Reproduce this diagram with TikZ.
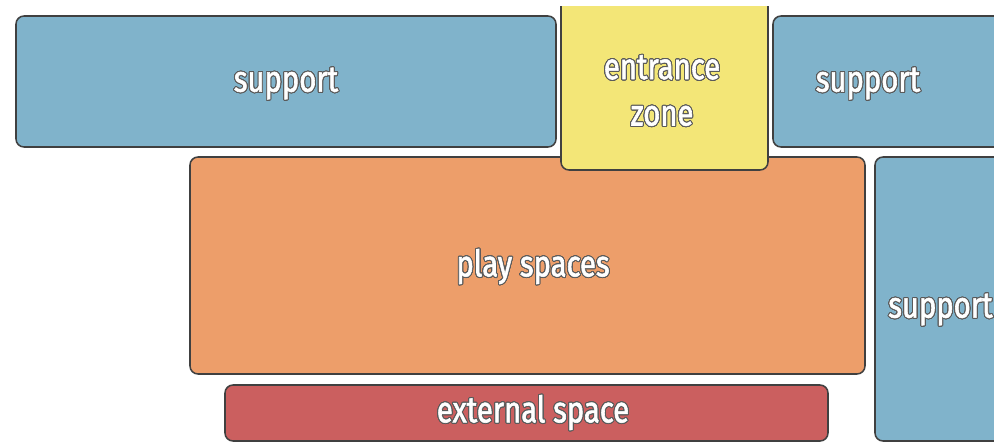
\documentclass[tikz,border=0pt]{standalone}
\usepackage{fontspec}
\setmainfont{Fira Sans}
\newfontfamily\zonefont{Fira Sans}[FakeStretch=0.8, FakeBold=1.6]
\usepackage[copies]{contour}
\contourlength{0.7pt}
\contournumber{24}
\definecolor{supportblue}{HTML}{80B3CB}
\definecolor{entryyellow}{HTML}{F3E677}
\definecolor{playorange}{HTML}{ED9E6A}
\definecolor{externalred}{HTML}{CB5F5F}
\definecolor{zoneline}{HTML}{404040}
\definecolor{textline}{HTML}{5A5A5A}
\newcommand{\zonelabel}[1]{\contour{textline}{#1}}
\tikzset{
	zone/.style={draw=zoneline, line width=1.1pt, rounded corners=0.2cm},
	zonetext/.style={text=white, font=\zonefont\fontsize{26}{33}\selectfont, inner sep=0pt, align=center}
}

\begin{document}
\begin{tikzpicture}[x=0.025cm, y=-0.025cm]
			%%%%% START %%%%%
			\useasboundingbox (0, 0) rectangle (994, 443);
			\clip (0, 0) rectangle (994, 443);
			
			\draw[zone, fill=supportblue] (16, 16) rectangle (556, 147);
			\draw[zone, fill=supportblue] (773, 16) rectangle (1010, 147);
			
			\draw[zone, fill=playorange] (190, 157) rectangle (865, 374);
			\draw[zone, fill=supportblue] (875, 157) rectangle (1010, 441);
			\begin{scope}
				\clip (0, 6) rectangle (994, 443);
				\draw[zone, fill=entryyellow] (561, -12) rectangle (768, 170);
			\end{scope}
			
			\draw[zone, fill=externalred] (225, 385) rectangle (828, 441);
			
			\node[zonetext] (supportleft) at (286, 84) {\zonelabel{support}};
			\node[zonetext] (supportright) at (868, 84) {\zonelabel{support}};
			\node[zonetext] (entrance) at (662, 91) {\zonelabel{entrance}\\\zonelabel{zone}};
			\node[zonetext] (play) at (533, 267) {\zonelabel{play spaces}};
			\node[zonetext, anchor=west] (supportside) at (888, 310) {\zonelabel{support}};
			\node[zonetext] (external) at (533, 413) {\zonelabel{external space}};
			
			%%%%% END %%%%%
\end{tikzpicture}
\end{document}
